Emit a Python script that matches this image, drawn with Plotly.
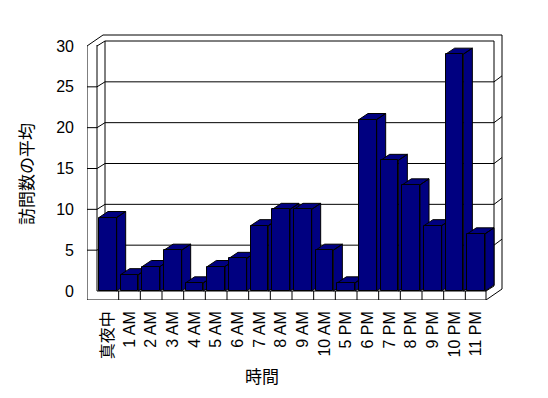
import plotly.graph_objects as go

# ---- data ----
categories = ["真夜中", "1 AM", "2 AM", "3 AM", "4 AM", "5 AM", "6 AM", "7 AM", "8 AM",
              "9 AM", "10 AM", "5 PM", "6 PM", "7 PM", "8 PM", "9 PM", "10 PM", "11 PM"]
visits = [9, 2, 3, 5, 1, 3, 4, 8, 10, 10, 5, 1, 21, 16, 13, 8, 29, 7]
y_ticks = [0, 5, 10, 15, 20, 25, 30]
x_title = "時間"
y_title = "訪問数の平均"

# ---- layout geometry (pixels, window coordinates) ----
OFF = 8                                 # page body margin of the html page
W, H = 548, 398
L, R, T, B = 87, 505, 33, 300          # plot area
X0, Y0 = 97, 291                        # pixel of category 0 left edge / value 0
SX = 390 / len(categories)              # px per category
SY = 245 / 30                           # px per unit

def C(px):
    return (px - X0) / SX

def V(py):
    return (Y0 - py) / SY

xr = [C(L), C(R)]
yr = [V(B), V(T)]

NAVY = "#000080"
FONT = "Liberation Sans, Arial, Noto Sans CJK JP, sans-serif"

BW = 17.7 / SX          # bar front width (category units)
DX = 9 / SX             # bar depth offset x
DY = 6 / SY             # bar depth offset y

fig = go.Figure()

# top and side faces of each bar (base axes), painter's order left to right
for i, v in enumerate(visits):
    xc = i + 0.5
    xl, xrt = xc - BW / 2, xc + BW / 2
    xs = [xl, xl + DX, xrt + DX, xrt, xl, None,
          xrt, xrt + DX, xrt + DX, xrt, xrt]
    ys = [v, v + DY, v + DY, v, v, None,
          v, v + DY, DY, 0, v]
    fig.add_trace(go.Scatter(x=xs, y=ys, mode="lines", fill="toself",
                             fillcolor=NAVY, line=dict(color="black", width=1),
                             hoverinfo="skip", showlegend=False,
                             xaxis="x", yaxis="y"))

# front faces as bars on an overlaying axis pair (drawn above faces)
fig.add_trace(go.Bar(x=[i + 0.5 for i in range(len(categories))], y=visits,
                     width=BW, marker=dict(color=NAVY, line=dict(color="black", width=1)),
                     showlegend=False, xaxis="x2", yaxis="y2",
                     hovertext=categories, hoverinfo="text+y"))

# ---- frame / walls (pixel segments converted to data coords) ----
segs = []
# left wall
segs += [((87, 46), (87, 300)), ((97, 45), (97, 291)), ((105, 41), (105, 286)),
         ((87, 46), (103, 35))]
# top edges
segs += [((103, 35), (502, 35)), ((105, 41), (494, 41))]
# right wall
segs += [((494, 41), (494, 286)), ((502, 35), (502, 289)), ((502, 289), (486, 300)),
         ((486, 291), (494, 286)), ((486, 291), (486, 300))]
# floor
segs += [((87, 300), (486, 300)), ((97, 291), (486, 291))]
# gridlines
for t in y_ticks:
    if t == 0:
        continue
    yf = Y0 - t * SY
    yb = yf - 5
    if t != y_ticks[-1]:
        segs.append(((87, yf), (97, yf)))
        segs.append(((105, yb), (494, yb)))
        segs.append(((494, yb), (502, yb - 6)))
    segs.append(((97, yf), (105, yb)))
# floor category ticks
for k in range(1, len(categories)):
    xp = X0 + k * SX
    segs.append(((xp, 291), (xp, 300)))

shapes = []
for (a, b) in segs:
    shapes.append(dict(type="line", xref="x", yref="y",
                       x0=C(a[0]), y0=V(a[1]), x1=C(b[0]), y1=V(b[1]),
                       line=dict(color="black", width=1), layer="below"))

pw, ph = R - L, B - T
annotations = [
    dict(text=x_title, xref="paper", yref="paper", x=(262 - L) / pw, y=(B - 377) / ph,
         xanchor="center", yanchor="middle", showarrow=False,
         font=dict(family=FONT, size=17, color="black")),
    dict(text=y_title, xref="paper", yref="paper", x=(27 - L) / pw, y=(B - 174) / ph,
         xanchor="center", yanchor="middle", showarrow=False, textangle=-90,
         font=dict(family=FONT, size=17, color="black")),
]

fig.update_layout(
    width=W - OFF, height=H - OFF,
    margin=dict(l=L - OFF, r=W - R, t=T - OFF, b=H - B, pad=0),
    paper_bgcolor="white", plot_bgcolor="white",
    showlegend=False,
    shapes=shapes, annotations=annotations,
    font=dict(family=FONT, size=16, color="black"),
    xaxis=dict(range=xr, showgrid=False, zeroline=False, showline=False,
               tickmode="array", tickvals=[i + 0.5 for i in range(len(categories))],
               ticktext=categories, tickangle=-90, ticks="",
               ticklabelstandoff=7, tickfont=dict(family=FONT, size=16, color="black"),
               fixedrange=True),
    yaxis=dict(range=yr, showgrid=False, zeroline=False, showline=False,
               tickmode="array", tickvals=y_ticks, ticks="",
               ticklabelstandoff=12, tickfont=dict(family=FONT, size=16, color="black"),
               fixedrange=True),
    xaxis2=dict(range=xr, overlaying="x", visible=False, fixedrange=True),
    yaxis2=dict(range=yr, overlaying="y", visible=False, fixedrange=True),
    bargap=0,
)

fig.write_html("out.html")
